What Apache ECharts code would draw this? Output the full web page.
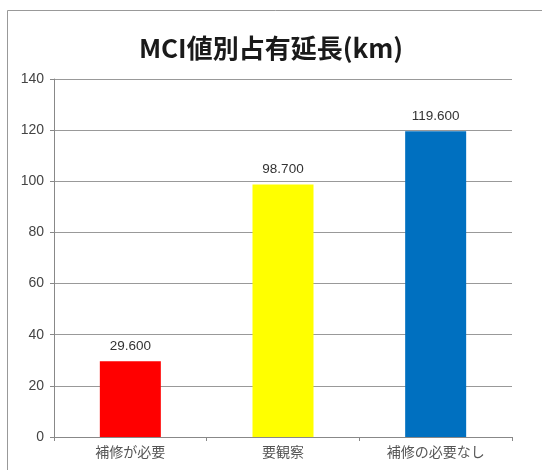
<!DOCTYPE html>
<html><head><meta charset="utf-8">
<script src="https://cdn.jsdelivr.net/npm/echarts@6/dist/echarts.min.js"></script>
<style>html,body{margin:0;padding:0;background:#fff}#c{width:542px;height:470px}</style>
</head><body><div id="c"></div>
<script>
const categories = ['補修が必要', '要観察', '補修の必要なし'];
const values = [29.6, 98.7, 119.6];
const colors = ['#ff0000', '#ffff00', '#0070c0'];
const chart = echarts.init(document.getElementById('c'));
chart.setOption({
  backgroundColor: '#fff',
  animation: false,
  graphic: [{type:'rect', shape:{x:7.5,y:10.5,width:600,height:600}, style:{fill:'none', stroke:'#999', lineWidth:1}, silent:true}],
  title: {text: 'MCI値別占有延長(km)', left: 'center', top: 30,
    textStyle: {fontFamily: '"Noto Sans CJK JP", sans-serif', fontSize: 26, fontWeight: 'bold', color: '#1a1a1a'}},
  grid: {left: 54, right: 30, top: 79, bottom: 33},
  xAxis: {type: 'category', data: categories,
    axisLine: {lineStyle: {color: '#888'}},
    axisTick: {show: true, length: 4, lineStyle: {color: '#888'}},
    axisLabel: {fontFamily: '"Noto Sans CJK JP", sans-serif', fontSize: 14, color: '#555', margin: 8}},
  yAxis: {type: 'value', min: 0, max: 140, interval: 20,
    axisLine: {show: true, lineStyle: {color: '#888'}},
    axisTick: {show: true, length: 4, lineStyle: {color: '#888'}},
    splitLine: {lineStyle: {color: '#999'}},
    axisLabel: {fontFamily: 'Liberation Sans, sans-serif', fontSize: 14, color: '#444', margin: 10}},
  series: [{type: 'bar', barWidth: 61,
    data: values.map((v, i) => ({value: v, itemStyle: {color: colors[i]}})),
    label: {show: true, position: 'top', distance: 8, formatter: p => p.value.toFixed(3),
      fontFamily: 'Liberation Sans, sans-serif', fontSize: 13.5, color: '#333'}}]
});
</script></body></html>
